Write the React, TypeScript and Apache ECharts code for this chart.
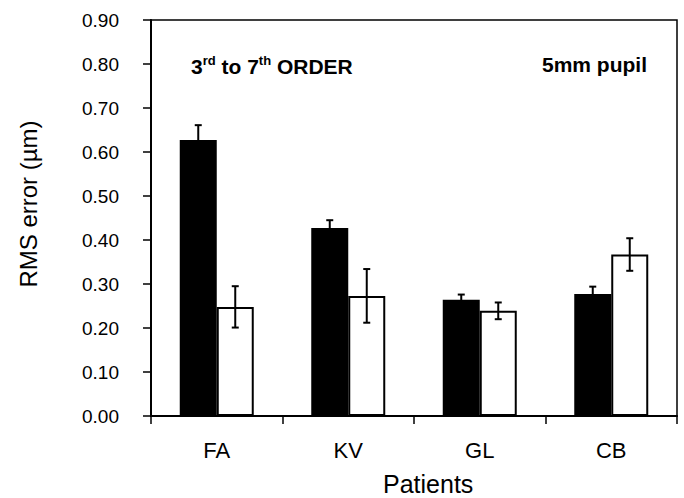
import React, { useEffect, useRef } from "react";
import * as echarts from "echarts";

const categories = ["FA", "KV", "GL", "CB"];
const blackValues = [0.627, 0.427, 0.264, 0.277];
const blackErrors = [0.034, 0.018, 0.012, 0.017];
const whiteValues = [0.248, 0.273, 0.239, 0.367];
const whiteErrors = [0.047, 0.061, 0.019, 0.037];
const yTicks = { min: 0, max: 0.9, interval: 0.1 };

const FONT = '"Liberation Sans", Arial, Helvetica, sans-serif';
const BAR_W = 37;

export default function App() {
  const ref = useRef<HTMLDivElement>(null);
  useEffect(() => {
    if (!ref.current) return;
    const chart = echarts.init(ref.current, undefined, { renderer: "svg" });

    const errData: number[][] = [];
    blackValues.forEach((v, i) => errData.push([i, v - blackErrors[i], v + blackErrors[i], -1]));
    whiteValues.forEach((v, i) => errData.push([i, v - whiteErrors[i], v + whiteErrors[i], 1]));

    const option: any = {
      animation: false,
      backgroundColor: "#fff",
      grid: {
        left: 151, right: 7, top: 20, bottom: 82,
        show: true, borderColor: "#000", borderWidth: 1.5, backgroundColor: "transparent",
      },
      xAxis: {
        type: "category",
        data: categories,
        boundaryGap: true,
        axisLine: { show: true, lineStyle: { color: "#000", width: 2 } },
        axisTick: { show: true, length: 8, lineStyle: { color: "#000", width: 1.5 } },
        axisLabel: { color: "#000", fontSize: 22, fontFamily: FONT, margin: 23 },
      },
      yAxis: {
        type: "value",
        min: yTicks.min, max: yTicks.max, interval: yTicks.interval,
        splitLine: { show: false },
        axisLine: { show: true, lineStyle: { color: "#000", width: 2 } },
        axisTick: { show: true, length: 8, lineStyle: { color: "#000", width: 1.5 } },
        axisLabel: {
          color: "#000", fontSize: 19, fontFamily: FONT, margin: 32,
          formatter: (v: number) => v.toFixed(2),
        },
      },
      series: [
        {
          type: "bar",
          data: blackValues,
          barWidth: BAR_W,
          barGap: "0%",
          itemStyle: { color: "#000" },
        },
        {
          type: "bar",
          data: whiteValues,
          barWidth: BAR_W,
          barGap: "0%",
          itemStyle: { color: "#fff", borderColor: "#000", borderWidth: 2 },
        },
        {
          type: "custom",
          data: errData,
          z: 10,
          renderItem: (params: any, api: any) => {
            const idx = api.value(0);
            const side = api.value(3);
            const lo = api.coord([idx, api.value(1)]);
            const hi = api.coord([idx, api.value(2)]);
            const x = lo[0] + side * BAR_W / 2;
            const cap = 3.5;
            const st = { stroke: "#000", lineWidth: 2 };
            return {
              type: "group",
              children: [
                { type: "line", shape: { x1: x, y1: lo[1], x2: x, y2: hi[1] }, style: st },
                { type: "line", shape: { x1: x - cap, y1: hi[1], x2: x + cap, y2: hi[1] }, style: st },
                { type: "line", shape: { x1: x - cap, y1: lo[1], x2: x + cap, y2: lo[1] }, style: st },
              ],
            };
          },
        },
      ],
      graphic: [
        {
          type: "text", x: 28, y: 204, rotation: Math.PI / 2,
          style: {
            text: "RMS error (µm)", fontSize: 24, fontFamily: FONT, fill: "#000",
            align: "center", verticalAlign: "middle",
          },
        },
        {
          type: "text", x: 383, y: 484,
          style: {
            text: "Patients", fontSize: 25, fontFamily: FONT, fill: "#000",
            align: "left", verticalAlign: "middle",
          },
        },
        {
          type: "text", x: 191, y: 65,
          style: {
            text: "{n|3}{s|rd}{n| to 7}{s|th}{n| ORDER}",
            align: "left", verticalAlign: "middle",
            rich: {
              n: { fontSize: 21, fontWeight: "bold", fontFamily: FONT, fill: "#000", lineHeight: 23, verticalAlign: "bottom" },
              s: { fontSize: 13, fontWeight: "bold", fontFamily: FONT, fill: "#000", lineHeight: 13, verticalAlign: "top" },
            },
          },
        },
        {
          type: "text", x: 542, y: 64,
          style: {
            text: "5mm pupil", fontSize: 21, fontWeight: "bold", fontFamily: FONT, fill: "#000",
            align: "left", verticalAlign: "middle",
          },
        },
      ],
    };
    chart.setOption(option);
    return () => chart.dispose();
  }, []);
  return (
    <div
      ref={ref}
      style={{ position: "fixed", left: 0, top: 0, width: 684, height: 498, background: "#fff" }}
    />
  );
}
